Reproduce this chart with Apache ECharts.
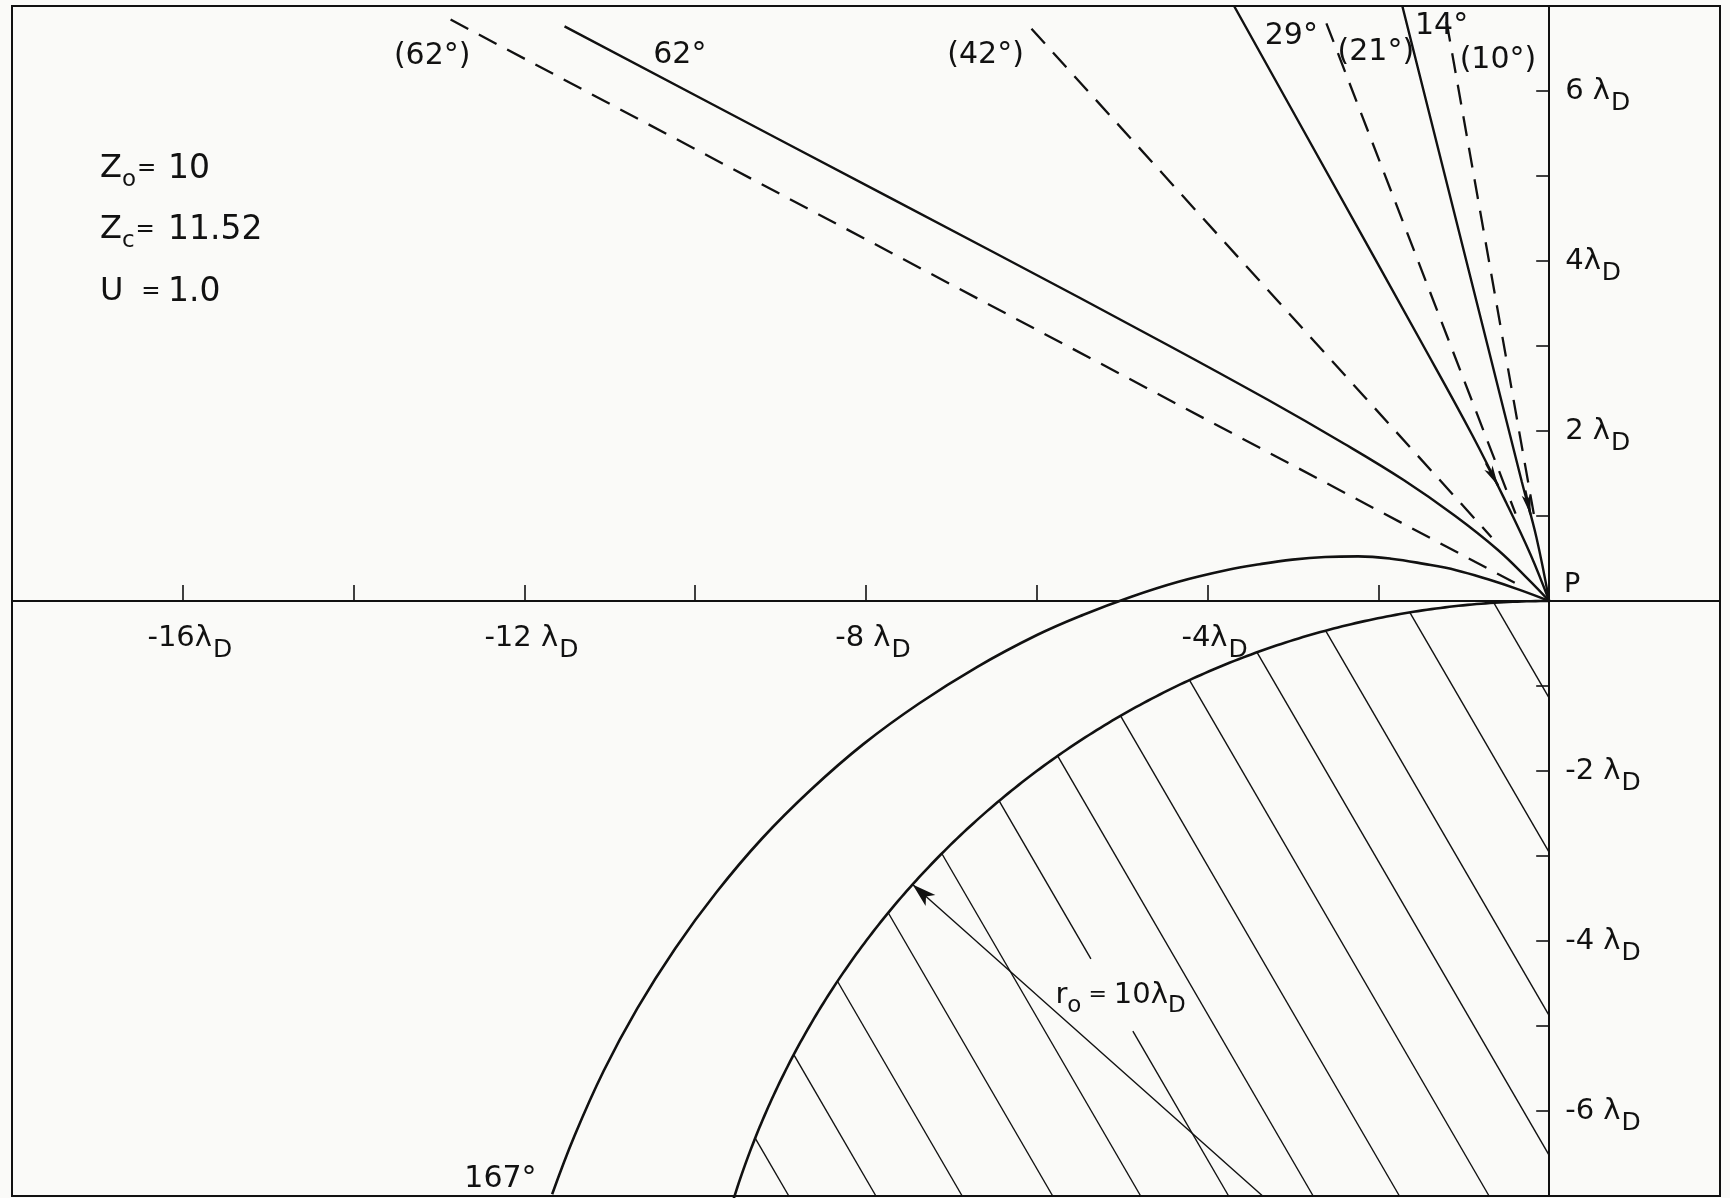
<!DOCTYPE html>
<html>
<head>
<meta charset="utf-8">
<script src="https://cdn.jsdelivr.net/npm/echarts@6/dist/echarts.min.js"></script>
<style>
  html, body { margin: 0; padding: 0; background: #fafaf8; }
  #chart { width: 1730px; height: 1198px; }
</style>
</head>
<body>
<div id="chart"></div>
<script>
// All lengths in Debye lengths (λD); P sits at the origin.

// Axis tick labels
const xTickValues = [-16, -12, -8, -4];
const xTickTexts  = ['-16λ', '-12 λ', '-8 λ', '-4λ'];
const yTickValues = [6, 4, 2, -2, -4, -6];
const yTickTexts  = ['6 λ', '4λ', '2 λ', '-2 λ', '-4 λ', '-6 λ'];

// Straight rays through P: angle from the +y axis (deg) and radial extent
const rayAngles = [62, 42, 21, 10];
const rayStart  = [0.41, 1.01, 1.10, 1.00];
const rayEnd    = [14.57, 9.06, 7.28, 6.92];

// Computed ion trajectories arriving at P
const traj62 = [[-11.53, 6.76], [-9.0, 5.42], [-6.5, 4.1], [-4.5, 3.03], [-3.3, 2.37], [-2.4, 1.85],
                [-1.7, 1.42], [-1.1, 1.0], [-0.6, 0.6], [-0.25, 0.26], [0, 0]];
const traj29 = [[-3.69, 7.0], [-2.58, 5.0], [-1.5, 3.05], [-0.9, 1.95], [-0.5, 1.15], [-0.22, 0.55], [0, 0]];
const traj14 = [[-1.72, 7.0], [-1.22, 5.0], [-0.72, 3.0], [-0.32, 1.4], [-0.15, 0.75], [0, 0]];
const traj167 = [[0, 0], [-0.354, 0.134], [-0.717, 0.255], [-1.089, 0.363], [-1.467, 0.437], [-1.851, 0.498],
                 [-2.237, 0.525], [-2.622, 0.518], [-3.007, 0.487], [-3.390, 0.433], [-3.772, 0.365],
                 [-4.341, 0.227], [-4.901, 0.048], [-5.454, -0.161], [-5.998, -0.400], [-6.701, -0.777],
                 [-7.379, -1.206], [-8.031, -1.684], [-8.643, -2.218], [-9.220, -2.797], [-9.749, -3.424],
                 [-10.236, -4.090], [-10.678, -4.792], [-11.071, -5.527], [-11.413, -6.292], [-11.675, -6.980]];

// Direction arrows on two trajectories (tail, head)
const arrow29 = [[-0.74, 1.62], [-0.60, 1.36]];
const arrow14 = [[-0.28, 1.30], [-0.22, 1.02]];

// Probe: circle of radius r0 centred straight below P
const probeCenter = [0, -10];
const probeRadius = 10;
const radiusArrowAngle = 48.2;   // deg from +y, toward -x

// Hatching inside the probe: crossings of y = 0 and the common slope
const hatchIntercepts = [-0.66, -1.71, -2.82, -3.77, -4.75, -5.80, -6.81, -7.80, -8.83, -9.86, -10.92, -11.93, -12.95];
const hatchSlope = -1.73;
const hatchBreak = { line: 7, yTop: -4.21, yBottom: -5.06 };   // gap left for the r0 label

// Parameter block
const paramSymbols = ['Z', 'Z', 'U'];
const paramSubs    = ['o', 'c', ''];
const paramValues  = ['10', '11.52', '1.0'];

// Curve labels
const noteTexts = ['(62°)', '62°', '(42°)', '29°', '(21°)', '14°', '(10°)', '167°', 'P', 'r0'];

// ---------- layout & style ----------
const INK = '#111111';
const FONT = 'DejaVu Sans';
const noteAnchors = [[-13.08, 6.41], [-10.18, 6.42], [-6.60, 6.42], [-3.02, 6.65], [-2.03, 6.46],
                     [-1.26, 6.76], [-0.60, 6.36], [-12.28, -6.80], [0.27, 0.19], [-5.02, -4.64]];
const xMin = -18, xMax = 2, yMin = -7, yMax = 7;
const W = 1730, H = 1198;
const gridBox = { left: 12, right: 10, top: 6, bottom: 2 };
const gridW = W - gridBox.left - gridBox.right;
const gridH = H - gridBox.top - gridBox.bottom;

function xLabel(v) {
  const i = xTickValues.indexOf(v);
  return i < 0 ? '' : '{n|' + xTickTexts[i] + '}{s|D}';
}
function yLabel(v) {
  const i = yTickValues.indexOf(v);
  return i < 0 ? '' : '{n|' + yTickTexts[i] + '}{s|D}';
}
const tickRich = {
  n: { fontSize: 29, fontFamily: FONT, color: INK },
  s: { fontSize: 25, fontFamily: FONT, color: INK, padding: [24, 0, 0, 1] }
};

function rayPoints(k) {
  const a = rayAngles[k] * Math.PI / 180;
  const dir = [-Math.sin(a), Math.cos(a)];
  return [[dir[0] * rayEnd[k], dir[1] * rayEnd[k]], [dir[0] * rayStart[k], dir[1] * rayStart[k]]];
}

const lineBase = {
  type: 'line', showSymbol: false, symbol: 'none', silent: true, z: 3,
  lineStyle: { color: INK, width: 2.4 }
};

const series = [];

// dashed straight rays
rayAngles.forEach((ang, k) => {
  series.push(Object.assign({}, lineBase, {
    name: 'ray' + ang,
    data: rayPoints(k),
    lineStyle: { color: INK, width: 2.3, type: [20, 12] }
  }));
});

function arrowMark(seg) {
  return {
    silent: true, symbol: ['none', 'arrow'], symbolSize: [7, 20],
    label: { show: false }, lineStyle: { color: INK, width: 2.4, type: 'solid' },
    data: [[{ coord: seg[0] }, { coord: seg[1] }]]
  };
}

series.push(Object.assign({}, lineBase, { name: 't62', data: traj62, smooth: 0.4 }));
series.push(Object.assign({}, lineBase, { name: 't29', data: traj29, smooth: 0.4, markLine: arrowMark(arrow29) }));
series.push(Object.assign({}, lineBase, { name: 't14', data: traj14, smooth: 0.4, markLine: arrowMark(arrow14) }));

// radius arrow from the probe centre to its surface
const ra = radiusArrowAngle * Math.PI / 180;
const tip = [probeCenter[0] - probeRadius * Math.sin(ra), probeCenter[1] + probeRadius * Math.cos(ra)];
const sRun = (tip[1] - yMin) / Math.cos(ra);
const tail = [tip[0] + sRun * Math.sin(ra), yMin];

series.push(Object.assign({}, lineBase, {
  name: 't167', data: traj167, smooth: 0.4,
  lineStyle: { color: INK, width: 2.6 },
  markLine: {
    silent: true, symbol: ['arrow', 'none'], symbolSize: [11, 24],
    label: { show: false }, lineStyle: { color: INK, width: 1.4, type: 'solid' },
    data: [[{ coord: tip }, { coord: tail }]]
  }
}));

// probe outline
series.push({
  type: 'custom', name: 'probe', coordinateSystem: 'cartesian2d', silent: true, z: 3,
  data: [[probeCenter[0], probeCenter[1]]],
  encode: { x: 0, y: 1 },
  renderItem: function (params, api) {
    const pts = [];
    const thMax = Math.acos((yMin - 0.1 - probeCenter[1]) / probeRadius);
    for (let i = 0; i <= 240; i++) {
      const th = thMax * i / 240;
      pts.push(api.coord([probeCenter[0] - probeRadius * Math.sin(th), probeCenter[1] + probeRadius * Math.cos(th)]));
    }
    return { type: 'polyline', shape: { points: pts }, style: { stroke: INK, lineWidth: 2.6, fill: null } };
  }
});

// hatching inside the probe
series.push({
  type: 'custom', name: 'hatch', coordinateSystem: 'cartesian2d', silent: true, z: 2,
  data: hatchIntercepts.map(c => [c, 0]),
  encode: { x: 0, y: 1 },
  renderItem: function (params, api) {
    const c = api.value(0);
    const s = hatchSlope;
    const k = s * (-c) - probeCenter[1];       // line: y - cy = s*x + k
    const a = 1 + s * s, b = 2 * s * k, cc = k * k - probeRadius * probeRadius;
    const disc = b * b - 4 * a * cc;
    if (disc <= 0) return null;
    const x1 = (-b - Math.sqrt(disc)) / (2 * a);
    const x2 = (-b + Math.sqrt(disc)) / (2 * a);
    const xEnd = Math.min(x2, 0, c + yMin / s);
    const yAt = x => s * (x - c);
    const xAt = y => c + y / s;
    const segs = [];
    if (params.dataIndex === hatchBreak.line) {
      segs.push([[x1, yAt(x1)], [xAt(hatchBreak.yTop), hatchBreak.yTop]]);
      segs.push([[xAt(hatchBreak.yBottom), hatchBreak.yBottom], [xEnd, yAt(xEnd)]]);
    } else {
      segs.push([[x1, yAt(x1)], [xEnd, yAt(xEnd)]]);
    }
    return {
      type: 'group',
      children: segs.map(sg => {
        const p = api.coord(sg[0]), q = api.coord(sg[1]);
        return { type: 'line', shape: { x1: p[0], y1: p[1], x2: q[0], y2: q[1] }, style: { stroke: INK, lineWidth: 1.4 } };
      })
    };
  }
});

// curve labels
const noteRich = {
  m: { fontSize: 30, fontFamily: FONT, color: INK },
  p: { fontSize: 27, fontFamily: FONT, color: INK },
  r: { fontSize: 29, fontFamily: FONT, color: INK },
  e: { fontSize: 22, fontFamily: FONT, color: INK },
  s: { fontSize: 23, fontFamily: FONT, color: INK, padding: [22, 0, 0, 0] }
};
series.push({
  type: 'scatter', name: 'notes', silent: true, symbolSize: 0, z: 5,
  itemStyle: { opacity: 1 },
  data: noteTexts.map((t, i) => ({ value: noteAnchors[i], name: t })),
  label: {
    show: true, position: 'inside', color: INK, opacity: 1,
    formatter: function (p) {
      if (p.name === 'P') return '{p|P}';
      if (p.name === 'r0') return '{r|r}{s|o}{e| = }{r|10λ}{s|D}';
      return '{m|' + p.name + '}';
    },
    rich: noteRich
  }
});

// parameter block: symbol (+ subscript) and "=", then the value in its own column
const graphic = [];
const paramRowY = [169, 230, 292];
paramSymbols.forEach((sym, i) => {
  const head = '{m|' + sym + '}' + (paramSubs[i] ? '{s|' + paramSubs[i] + '}' : '{g|  }') + '{e|=}';
  graphic.push({
    type: 'text', x: 100, y: paramRowY[i], silent: true,
    style: {
      text: head, verticalAlign: 'middle', align: 'left',
      rich: {
        m: { fontSize: 32, fontFamily: FONT, fill: INK },
        s: { fontSize: 23, fontFamily: FONT, fill: INK, padding: [22, 1, 0, 0] },
        g: { fontSize: 28, fontFamily: FONT, fill: INK },
        e: { fontSize: 23, fontFamily: FONT, fill: INK }
      }
    }
  });
  graphic.push({
    type: 'text', x: 168, y: paramRowY[i], silent: true,
    style: { text: paramValues[i], font: '33px "' + FONT + '"', fill: INK, verticalAlign: 'middle', align: 'left' }
  });
});

const option = {
  backgroundColor: '#fafaf8',
  animation: false,
  grid: Object.assign({ show: true, borderColor: INK, borderWidth: 2, backgroundColor: 'transparent',
                        containLabel: false, outerBoundsMode: 'none' }, gridBox),
  xAxis: {
    type: 'value', min: xMin, max: xMax, interval: 2, position: 'bottom',
    offset: -gridH * (0 - yMin) / (yMax - yMin),
    axisLine: { onZero: false, lineStyle: { color: INK, width: 2 } },
    axisTick: { inside: true, length: 16, lineStyle: { color: INK, width: 1.6 } },
    splitLine: { show: false },
    axisLabel: { margin: 13, formatter: xLabel, rich: tickRich, padding: [0, 0, 0, 14] }
  },
  yAxis: {
    type: 'value', min: yMin, max: yMax, interval: 1, position: 'right',
    offset: -gridW * (xMax - 0) / (xMax - xMin),
    axisLine: { onZero: false, lineStyle: { color: INK, width: 2 } },
    axisTick: { inside: true, length: 13, lineStyle: { color: INK, width: 1.6 } },
    splitLine: { show: false },
    axisLabel: { inside: false, margin: 16, formatter: yLabel, rich: tickRich }
  },
  graphic: graphic,
  series: series
};

const chart = echarts.init(document.getElementById('chart'), null, { renderer: 'canvas' });
chart.setOption(option);
</script>
</body>
</html>
